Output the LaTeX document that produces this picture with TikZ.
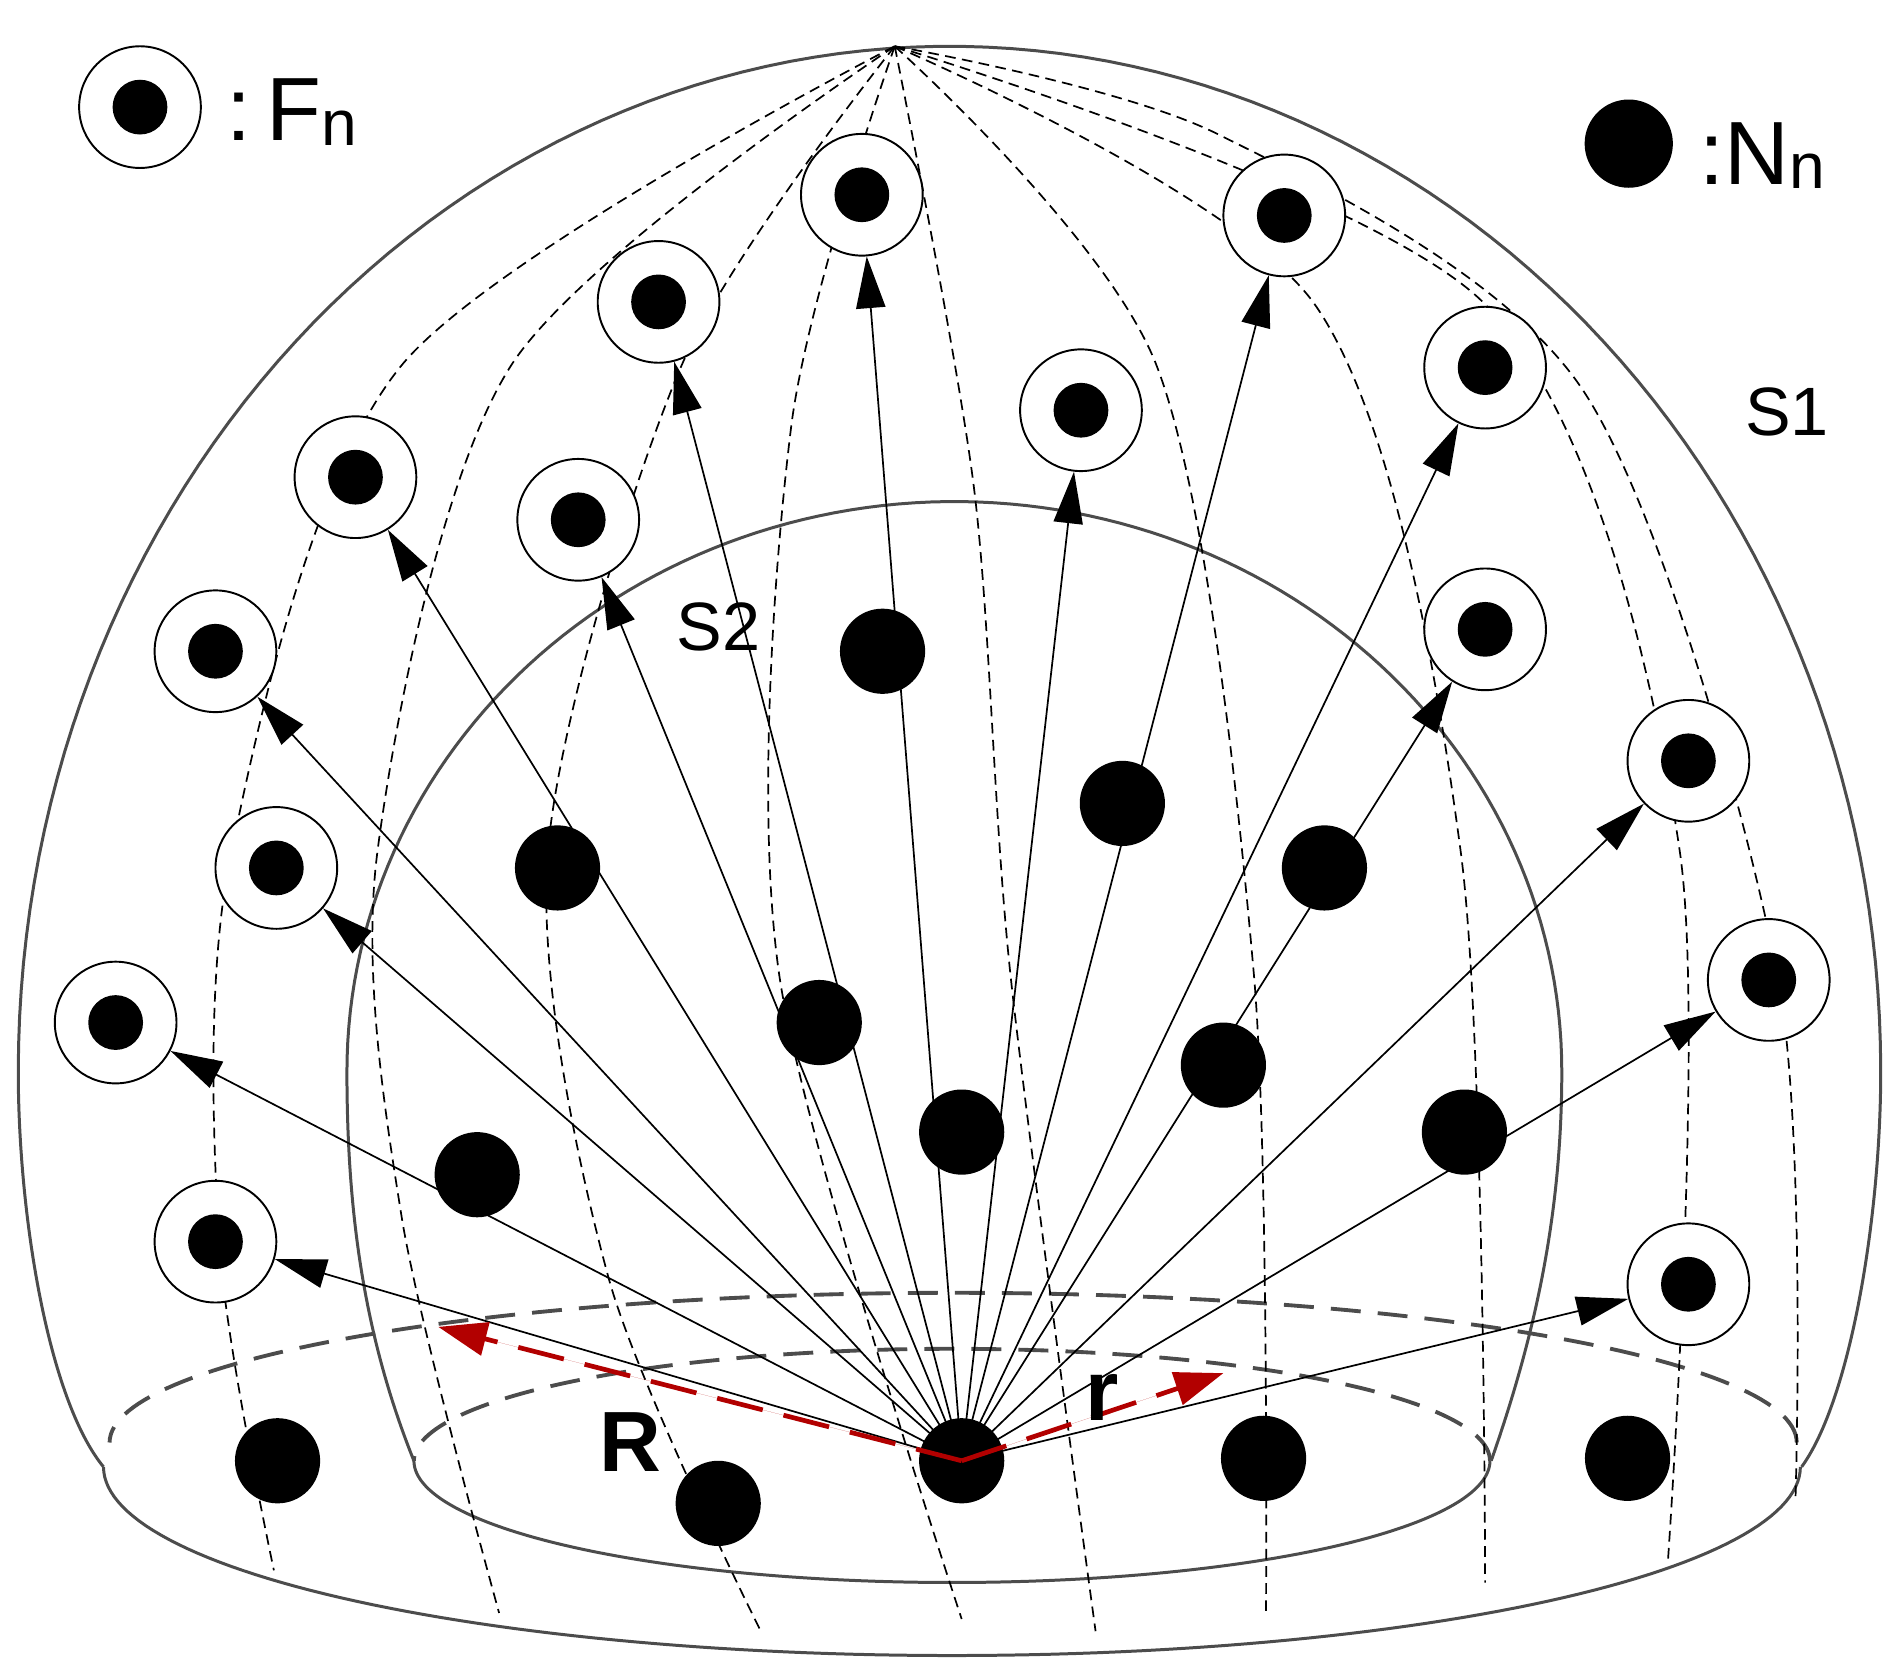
\documentclass[tikz,border=0pt]{standalone}
\usepackage{fontspec}
\setmainfont{Liberation Sans}
\usetikzlibrary{arrows.meta}
\begin{document}
\begin{tikzpicture}[x=0.02cm,y=-0.02cm,
  nn/.style={circle,fill=black,minimum size=1.4cm,inner sep=0pt},
  fn/.style={circle,draw=black,line width=0.9pt,fill=white,minimum size=2cm,inner sep=0pt,
    path picture={\fill[black] (path picture bounding box.center) circle (0.45cm);}},
  arr/.style={line width=0.8pt,-{Triangle[length=0.85cm,width=0.48cm]}},
  mer/.style={dash pattern=on 5pt off 3pt,line width=0.8pt},
  shell/.style={line width=1.4pt,draw=black!70},
  lab/.style={font=\fontsize{32}{36}\selectfont}]
\useasboundingbox (0,0) rectangle (1560,1378);
% outer dome S1
\draw[shell] (85,1205) .. controls (40,1150) and (15,1000) .. (15,880)
  -- plot[domain=180:0,samples=120] ({780+765*cos(\x)},{880-842*sin(\x)})
  .. controls (1545,1000) and (1520,1150) .. (1480,1205);
\draw[shell] plot[domain=180:360,samples=120] ({782+697*cos(\x)},{1205-155*sin(\x)});
% inner dome S2
\draw[shell] (340,1200) .. controls (300,1100) and (285,1000) .. (285,880)
  -- plot[domain=180:0,samples=120] ({784+499*cos(\x)},{880-468*sin(\x)})
  .. controls (1283,1000) and (1260,1100) .. (1225,1200);
\draw[shell] plot[domain=180:360,samples=120] ({782+442*cos(\x)},{1200-100*sin(\x)});
\draw[shell,dash pattern=on 14pt off 8pt,line width=1.8pt] plot[domain=0:180,samples=120] ({782+442*cos(\x)},{1200-92*sin(\x)});
\draw[shell,dash pattern=on 14pt off 8pt,line width=1.8pt] plot[domain=0:180,samples=120] ({783+693*cos(\x)},{1185-123*sin(\x)});
% meridians
\draw[mer] plot[smooth] coordinates {(735,38) (330,300) (190,700) (180,1020) (225,1290)};
\draw[mer] plot[smooth] coordinates {(735,38) (420,300) (310,700) (330,1000) (410,1325)};
\draw[mer] plot[smooth] coordinates {(735,38) (560,300) (450,700) (500,1050) (625,1340)};
\draw[mer] plot[smooth] coordinates {(735,38) (650,350) (640,800) (790,1330)};
\draw[mer] plot[smooth] coordinates {(735,38) (800,400) (830,800) (900,1340)};
\draw[mer] plot[smooth] coordinates {(735,38) (950,300) (1030,800) (1040,1325)};
\draw[mer] plot[smooth] coordinates {(735,38) (1080,250) (1200,700) (1220,1300)};
\draw[mer] plot[smooth] coordinates {(735,38) (1220,250) (1380,700) (1370,1285)};
\draw[mer] plot[smooth] coordinates {(735,38) (1000,110) (1300,320) (1460,800) (1475,1230)};
% N nodes
\node[nn] (c) at (790,1200) {};
\foreach \p [count=\i] in {(725,535),(458,713),(922,660),(673,840),(1088,713),(392,965),(790,930),(1005,875),(1203,930),(228,1200),(590,1235),(1038,1198),(1337,1198)}
  \node[nn] (n\i) at \p {};
% F nodes
\foreach \p [count=\i] in {(708,160),(541,248),(1055,177),(1220,302),(888,337),(292,392),(475,427),(177,535),(1220,517),(1387,625),(227,713),(95,840),(1453,805),(177,1020),(1387,1055)}
  \node[fn] (f\i) at \p {};
% arrows
\foreach \i in {1,...,15} \draw[arr] (c.center) -- (f\i);
% red arrows
\coordinate (rR) at (360,1090);
\coordinate (rr) at (1005,1128);
\draw[line width=2.2pt,draw=red!70!black,dash pattern=on 22pt off 10pt,-{Triangle[length=0.8cm,width=0.55cm]},fill=red!70!black] (c.center) -- (rR);
\draw[line width=2.2pt,draw=red!70!black,dash pattern=on 22pt off 10pt,-{Triangle[length=0.8cm,width=0.55cm]},fill=red!70!black] (c.center) -- (rr);
% labels
\node[lab] (s1) at (1468,338) {S1};
\node[lab] (s2) at (590,515) {S2};
\node[lab,font=\bfseries\fontsize{40}{44}\selectfont] (lR) at (518,1185) {R};
\node[lab,font=\bfseries\fontsize{40}{44}\selectfont] (lr) at (905,1148) {r};
% legend
\node[fn] (lf) at (115,88) {};
\node[anchor=west,font=\fontsize{42}{46}\selectfont] (lft) at (180,92) {:\,F\raisebox{-0.05em}{\fontsize{30}{34}\selectfont n}};
\node[circle,fill=black,minimum width=1.36cm,minimum height=1.45cm,inner sep=0pt] (ln) at (1338,118) {};
\node[anchor=west,font=\fontsize{42}{46}\selectfont] (lnt) at (1390,128) {:N\raisebox{-0.05em}{\fontsize{30}{34}\selectfont n}};
\end{tikzpicture}
\end{document}
